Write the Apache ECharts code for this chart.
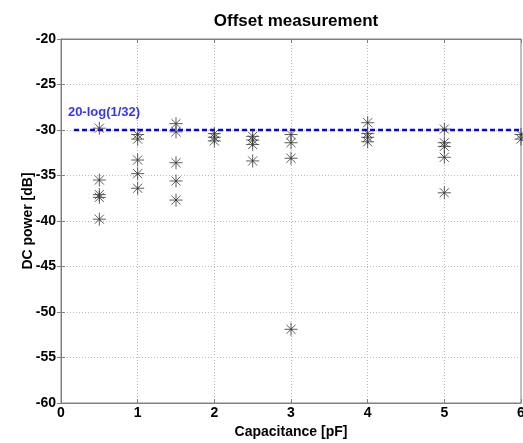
<!DOCTYPE html>
<html>
<head>
<meta charset="utf-8">
<script src="https://cdn.jsdelivr.net/npm/echarts@6/dist/echarts.min.js"></script>
<style>
  html, body { margin: 0; padding: 0; background: #fff; }
  #chart { width: 523px; height: 443px; }
</style>
</head>
<body>
<div id="chart"></div>
<script>
// measured points, one array per capacitance value
const capacitance = [0.5, 1, 1.5, 2, 2.5, 3, 4, 5, 6]
const power05 = [-29.8, -35.5, -37.1, -37.4, -39.8]
const power10 = [-30.5, -31.0, -33.3, -34.8, -36.4]
const power15 = [-29.3, -30.2, -33.6, -35.6, -37.7]
const power20 = [-30.4, -30.8, -31.2]
const power25 = [-30.7, -31.1, -31.6, -33.4]
const power30 = [-30.5, -31.4, -33.1, -51.9]
const power40 = [-29.2, -30.4, -30.8, -31.3]
const power50 = [-29.9, -31.4, -31.8, -33.0, -36.9]
const power60 = [-30.5, -31.0]

// reference level 20*log10(1/32)
const refX = [0.17, 6]
const refLevel = -30
const refText = '20-log(1/32)'
const refTextAt = [0.09, -28.1]

const xTicks = [0, 1, 2, 3, 4, 5, 6]
const yTicks = [-60, -55, -50, -45, -40, -35, -30, -25, -20]

const groups = [power05, power10, power15, power20, power25, power30, power40, power50, power60]
const points = []
groups.forEach((vals, i) => {
  vals.forEach(v => points.push([capacitance[i], v]))
})

const font = 'Liberation Sans, Arial, sans-serif'
const star = 'path://M0,-1L0,1M-1,0L1,0M-0.7,-0.7L0.7,0.7M-0.7,0.7L0.7,-0.7'

const chart = echarts.init(document.getElementById('chart'))
chart.setOption({
  animation: false,
  title: {
    text: 'Offset measurement',
    left: 291,
    top: 8,
    textAlign: 'center',
    textStyle: { fontFamily: font, fontWeight: 'bold', fontSize: 17, color: '#000' }
  },
  grid: {
    left: 61,
    right: 2,
    top: 39,
    bottom: 40,
    outerBoundsMode: 'none',
    show: true,
    borderColor: '#808080',
    borderWidth: 1
  },
  xAxis: [{
    type: 'value',
    min: xTicks[0],
    max: xTicks[xTicks.length - 1],
    interval: 1,
    name: 'Capacitance [pF]',
    nameLocation: 'middle',
    nameGap: 22,
    nameMoveOverlap: false,
    nameTextStyle: { fontFamily: font, fontWeight: 'bold', fontSize: 14, color: '#000' },
    axisLine: { lineStyle: { color: '#808080' } },
    axisTick: { inside: true, length: 4, lineStyle: { color: '#808080' } },
    axisLabel: { fontFamily: font, fontWeight: 'bold', fontSize: 14, color: '#000', margin: 3 },
    splitLine: { show: true, lineStyle: { color: '#bbb', type: [1, 2] } }
  }, {
    type: 'value',
    position: 'top',
    min: xTicks[0],
    max: xTicks[xTicks.length - 1],
    interval: 1,
    axisLine: { lineStyle: { color: '#808080' } },
    axisTick: { inside: true, length: 4, lineStyle: { color: '#808080' } },
    axisLabel: { show: false },
    splitLine: { show: false }
  }],
  yAxis: [{
    type: 'value',
    min: yTicks[0],
    max: yTicks[yTicks.length - 1],
    interval: 5,
    name: 'DC power [dB]',
    nameLocation: 'middle',
    nameGap: 26,
    nameMoveOverlap: false,
    nameTextStyle: { fontFamily: font, fontWeight: 'bold', fontSize: 14, color: '#000' },
    axisLine: { show: true, lineStyle: { color: '#808080' } },
    axisTick: { show: true, inside: true, length: 4, lineStyle: { color: '#808080' } },
    axisLabel: { fontFamily: font, fontWeight: 'bold', fontSize: 14, color: '#000', margin: 5 },
    splitLine: { show: true, lineStyle: { color: '#bbb', type: [1, 2] } }
  }, {
    type: 'value',
    position: 'right',
    min: yTicks[0],
    max: yTicks[yTicks.length - 1],
    interval: 5,
    axisLine: { show: true, lineStyle: { color: '#808080' } },
    axisTick: { show: true, inside: true, length: 4, lineStyle: { color: '#808080' } },
    axisLabel: { show: false },
    splitLine: { show: false }
  }],
  series: [{
    type: 'line',
    data: refX.map(x => [x, refLevel]),
    showSymbol: false,
    symbol: 'none',
    lineStyle: { color: '#0000ff', width: 2.5, type: [5, 3] },
    z: 3
  }, {
    type: 'scatter',
    data: [refTextAt],
    symbolSize: 0,
    label: {
      show: true,
      position: 'right',
      distance: 0,
      formatter: refText,
      fontFamily: font,
      fontWeight: 'bold',
      fontSize: 13,
      color: '#0000ff'
    },
    silent: true
  }, {
    type: 'scatter',
    data: points,
    symbol: star,
    symbolSize: 13,
    clip: true,
    itemStyle: { color: 'none', borderColor: '#333', borderWidth: 1 },
    z: 4
  }]
})
</script>
</body>
</html>
